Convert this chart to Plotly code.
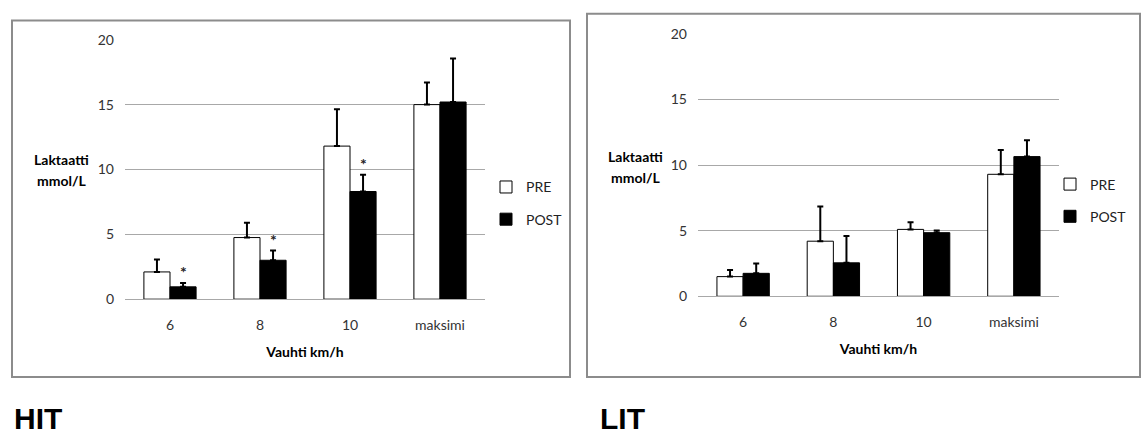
import plotly.graph_objects as go

# ---------------- data ----------------
categories = ["6", "8", "10", "maksimi"]

hit_pre = [2.1, 4.75, 11.8, 15.0]
hit_pre_err = [0.95, 1.15, 2.85, 1.7]
hit_post = [0.95, 3.0, 8.3, 15.2]
hit_post_err = [0.3, 0.75, 1.3, 3.35]
hit_sig = [True, True, True, False]

lit_pre = [1.5, 4.2, 5.1, 9.3]
lit_pre_err = [0.5, 2.65, 0.55, 1.85]
lit_post = [1.75, 2.55, 4.85, 10.65]
lit_post_err = [0.75, 2.05, 0.17, 1.25]
lit_sig = [False, False, False, False]

y_ticks = [0, 5, 10, 15, 20]
series_names = ["PRE", "POST"]
panel_titles = ["HIT", "LIT"]
x_title = "Vauhti km/h"
y_title_lines = ["Laktaatti", "mmol/L"]

# ---------------- layout helpers ----------------
W, H = 1141, 434
FONT = "Lato, 'Open Sans', sans-serif"
GRID = "#a8a8a8"


def px(x):
    return x / W


def py(y):
    return 1 - y / H


fig = go.Figure()

panels = [
    dict(pre=hit_pre, pre_err=hit_pre_err, post=hit_post, post_err=hit_post_err,
         sig=hit_sig, xa="x", ya="y", legend="legend"),
    dict(pre=lit_pre, pre_err=lit_pre_err, post=lit_post, post_err=lit_post_err,
         sig=lit_sig, xa="x2", ya="y2", legend="legend2"),
]

for k, p in enumerate(panels):
    fig.add_trace(go.Bar(
        x=categories, y=p["pre"], name=series_names[0],
        marker=dict(color="white", line=dict(color="black", width=1)),
        error_y=dict(type="data", symmetric=False, array=p["pre_err"],
                     arrayminus=[0] * len(categories), color="black",
                     thickness=2, width=3),
        xaxis=p["xa"], yaxis=p["ya"], legend=p["legend"],
        legendgroup=f"pre{k}", hoverinfo="x+y",
    ))
    fig.add_trace(go.Bar(
        x=categories, y=p["post"], name=series_names[1],
        marker=dict(color="black", line=dict(color="black", width=1)),
        error_y=dict(type="data", symmetric=False, array=p["post_err"],
                     arrayminus=[0] * len(categories), color="black",
                     thickness=2, width=3),
        xaxis=p["xa"], yaxis=p["ya"], legend=p["legend"],
        legendgroup=f"post{k}", hoverinfo="x+y",
    ))

BARGAP = 0.42
post_offset = (1 - BARGAP) / 4.0

annotations = []
# significance asterisks above POST error bars
for p in panels:
    for i, s in enumerate(p["sig"]):
        if s:
            annotations.append(dict(
                x=i + post_offset, y=p["post"][i] + p["post_err"][i],
                xref=p["xa"], yref=p["ya"], text="<b>*</b>", showarrow=False,
                yanchor="bottom", yshift=0,
                font=dict(family=FONT, size=16, color="#222222")))

# y titles (horizontal, two lines)
for cx, ys in [(61, (157, 178)), (635, (153, 175))]:
    for line, yy in zip(y_title_lines, ys):
        annotations.append(dict(
            x=px(cx), y=py(yy), xref="paper", yref="paper", text=f"<b>{line}</b>",
            showarrow=False, xanchor="center", yanchor="middle",
            font=dict(family=FONT, size=14, color="black")))

# panel labels
for cx, t in [(12, panel_titles[0]), (598, panel_titles[1])]:
    annotations.append(dict(
        x=px(cx), y=py(426), xref="paper", yref="paper", text=f"<b>{t}</b>",
        showarrow=False, xanchor="left", yanchor="middle",
        font=dict(family="Liberation Sans, Arial, sans-serif", size=30, color="black")))

shapes = [
    dict(type="rect", xref="paper", yref="paper",
         x0=px(12), x1=px(570), y0=py(383), y1=py(12),
         line=dict(color="#8c8c8c", width=2), fillcolor="rgba(0,0,0,0)", layer="below"),
    dict(type="rect", xref="paper", yref="paper",
         x0=px(587), x1=px(1140), y0=py(383), y1=py(5),
         line=dict(color="#8c8c8c", width=2), fillcolor="rgba(0,0,0,0)", layer="below"),
]

yaxis_common = dict(range=[0, 20], tickvals=y_ticks, showgrid=True, gridcolor=GRID,
                    gridwidth=1, zeroline=False, showline=False, ticks="",
                    ticklabelstandoff=10, fixedrange=True,
                    tickfont=dict(family=FONT, size=14, color="#333333"))
xaxis_common = dict(type="category", showline=True, linecolor=GRID, linewidth=1,
                    ticks="", ticklabelstandoff=13, fixedrange=True,
                    tickfont=dict(family=FONT, size=14, color="#333333"),
                    title=dict(text=f"<b>{x_title}</b>", standoff=15,
                               font=dict(family=FONT, size=14, color="black")))

legend_common = dict(font=dict(family=FONT, size=14, color="#222222"),
                     bgcolor="rgba(0,0,0,0)", borderwidth=0, tracegroupgap=11,
                     traceorder="grouped", xanchor="left", yanchor="top",
                     itemwidth=30)

fig.update_layout(
    width=W, height=H,
    margin=dict(l=0, r=0, t=0, b=0),
    paper_bgcolor="white", plot_bgcolor="white",
    barmode="group", bargap=BARGAP, bargroupgap=0,
    xaxis=dict(domain=[px(125), px(485)], anchor="y", **xaxis_common),
    yaxis=dict(domain=[py(302), py(32)], anchor="x", **yaxis_common),
    xaxis2=dict(domain=[px(698), px(1059)], anchor="y2", **xaxis_common),
    yaxis2=dict(domain=[py(299), py(26)], anchor="x2", **yaxis_common),
    legend=dict(x=px(486), y=py(169), **legend_common),
    legend2=dict(x=px(1050), y=py(166), **legend_common),
    annotations=annotations,
    shapes=shapes,
    showlegend=True,
)

fig.write_html("out.html")
